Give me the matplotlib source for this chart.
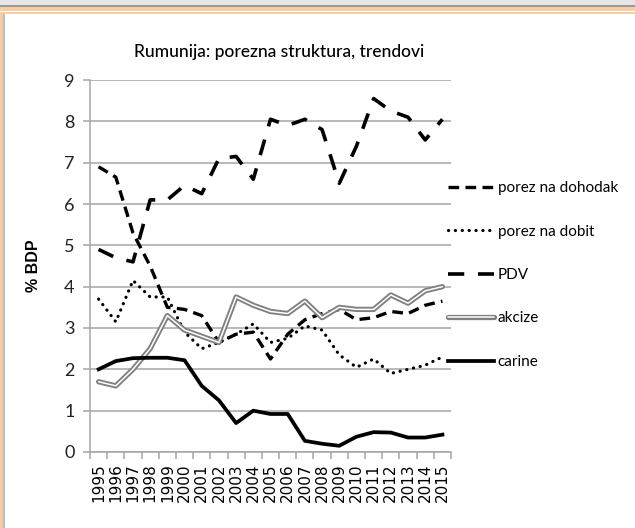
import numpy as np
import matplotlib.pyplot as plt
import matplotlib.patches as mpatches
import matplotlib.patheffects as pe

# Data
years = [str(y) for y in range(1995, 2016)]
dohodak = [6.9, 6.65, 5.3, 4.5, 3.5, 3.45, 3.3, 2.65, 2.85, 2.9, 2.25, 2.85, 3.2, 3.35, 3.45, 3.2, 3.25, 3.4, 3.35, 3.55, 3.65]
dobit = [3.7, 3.15, 4.15, 3.75, 3.75, 2.9, 2.5, 2.65, 2.85, 3.1, 2.65, 2.75, 3.05, 2.95, 2.35, 2.05, 2.25, 1.9, 2.0, 2.1, 2.3]
pdv = [4.9, 4.7, 4.6, 6.1, 6.1, 6.45, 6.25, 7.1, 7.15, 6.6, 8.05, 7.9, 8.05, 7.8, 6.5, 7.4, 8.55, 8.25, 8.1, 7.55, 8.05]
akcize = [1.7, 1.6, 2.0, 2.5, 3.3, 2.95, 2.8, 2.65, 3.75, 3.55, 3.4, 3.35, 3.65, 3.25, 3.5, 3.45, 3.45, 3.8, 3.6, 3.9, 4.0]
carine = [2.0, 2.2, 2.27, 2.28, 2.28, 2.22, 1.6, 1.25, 0.7, 1.0, 0.92, 0.92, 0.27, 0.2, 0.15, 0.37, 0.48, 0.47, 0.35, 0.35, 0.42]
labels = ['porez na dohodak', 'porez na dobit', 'PDV', 'akcize', 'carine']

W, H = 635, 528
fig = plt.figure(figsize=(W / 100, H / 100), dpi=100)

def px_rect(x0, y0, x1, y1, **kw):
    # rectangle given in image pixels (y from top)
    r = mpatches.Rectangle((x0 / W, 1 - y1 / H), (x1 - x0) / W, (y1 - y0) / H,
                           transform=fig.transFigure, **kw)
    fig.add_artist(r)

# slide frame decoration
px_rect(0, 0, W, 5, facecolor='#e6e6e6', edgecolor='none')
px_rect(0, 5, W, 6.5, facecolor='#9a9a9a', edgecolor='none')
px_rect(0, 7, W, 10.5, facecolor='#f7cda6', edgecolor='none')
px_rect(0, 12, 3, H, facecolor='#f7cda6', edgecolor='none')
px_rect(0, 12, W, 14, facecolor='#f7cda6', edgecolor='none')
px_rect(3, 14, 4.5, H, facecolor='#bdbdbd', edgecolor='none')

ax = fig.add_axes([90 / W, 1 - 452 / H, (451 - 90) / W, (452 - 80) / H])
x = np.arange(len(years))

ax.plot(x, dohodak, color='black', lw=2.4, dashes=(3.2, 1.9), label=labels[0])
ax.plot(x, dobit, color='black', lw=2.3, dashes=(0.05, 2.1), dash_capstyle='round', label=labels[1])
ax.plot(x, pdv, color='black', lw=2.6, dashes=(4.5, 3.8), label=labels[2])
ax.plot(x, akcize, color='white', lw=1.1, solid_capstyle='round', label=labels[3],
        path_effects=[pe.Stroke(linewidth=3.8, foreground='#808080', capstyle='round'), pe.Normal()])
ax.plot(x, carine, color='black', lw=2.7, label=labels[4])

ax.set_xlim(-0.5, len(years) - 0.5)
ax.set_ylim(0, 9)
ax.set_yticks(range(0, 10))
ax.yaxis.grid(True, color='#a6a6a6', lw=1.1)
ax.set_axisbelow(True)
for s in ['top', 'right']:
    ax.spines[s].set_visible(False)
ax.spines['left'].set_color('#a6a6a6')
ax.spines['bottom'].set_color('#a6a6a6')
ax.spines['left'].set_linewidth(1.1)
ax.spines['bottom'].set_linewidth(1.1)

ax.set_xticks(x)
ax.set_xticklabels(years, rotation=90, fontsize=11, family='DejaVu Sans')
ax.set_xticks(np.arange(-0.5, len(years)), minor=True)
ax.tick_params(axis='x', which='major', length=0, pad=8)
ax.tick_params(axis='x', which='minor', length=5, color='#a6a6a6', width=1.1)
ax.tick_params(axis='y', length=5, color='#a6a6a6', width=1.1, labelsize=13, pad=6)
for t in ax.get_yticklabels():
    t.set_family('Lato')
    t.set_color('#222222')

fig.text(279 / W, 1 - 52 / H, 'Rumunija: porezna struktura, trendovi', ha='center', va='center',
         fontsize=12.5, family='Lato', fontweight='medium')
fig.text(33 / W, 1 - 266 / H, '% BDP', rotation=90, ha='center', va='center',
         fontsize=11.5, fontweight='bold', family='Liberation Sans')

leg = fig.legend(loc='center left', bbox_to_anchor=(434 / W, 1 - 275 / H), frameon=False,
                 prop={'family': 'Lato', 'size': 11}, handlelength=3.0, handletextpad=0.26,
                 labelspacing=1.93)

fig.savefig('out.png', dpi=100)
